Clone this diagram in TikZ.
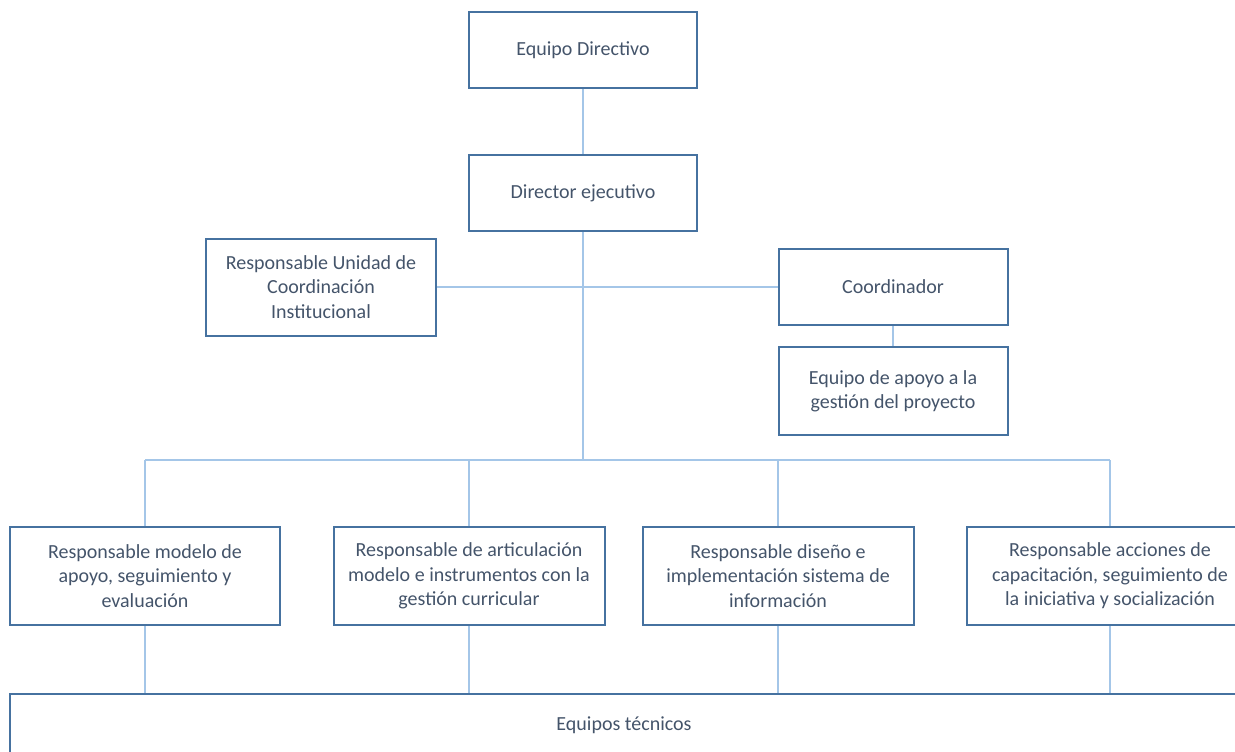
\documentclass[tikz,border=0pt]{standalone}
\usepackage{fontspec}
\setmainfont{Carlito}
\definecolor{boxline}{HTML}{4672A0}
\definecolor{linkline}{HTML}{A4C6E8}
\definecolor{boxtext}{HTML}{44546A}

\begin{document}
\begin{tikzpicture}[x=1pt,y=-1pt,
    box/.style={draw=boxline, line width=2pt, text=boxtext, align=center, inner sep=0pt, font=\fontsize{20}{24.4}\selectfont},
    link/.style={draw=linkline, line width=1.5pt}]
                \clip (0,0) rectangle (1235,752);

                \node[box, minimum width=228, minimum height=76] (equipo) at (583,50) {Equipo Directivo};
                \node[box, minimum width=228, minimum height=76] (dir) at (583,193) {Director ejecutivo};
                \node[box, minimum width=230, minimum height=97] (unidad) at (321,287) {Responsable Unidad de\\Coordinación\\Institucional};
                \node[box, minimum width=229, minimum height=76] (coord) at (893,287) {Coordinador};
                \node[box, minimum width=229, minimum height=88] (apoyo) at (893,391) {Equipo de apoyo a la\\gestión del proyecto};

                \node[box, minimum width=270, minimum height=98] (b1) at (145,576) {Responsable modelo de\\apoyo, seguimiento y\\evaluación};
                \node[box, minimum width=271, minimum height=98] (b2) at (469,576) {Responsable de articulación\\modelo e instrumentos con la\\gestión curricular};
                \node[box, minimum width=271, minimum height=98] (b3) at (778,576) {Responsable diseño e\\implementación sistema de\\información};
                \node[box, minimum width=286, minimum height=98] (b4) at (1110,576) {Responsable acciones de\\capacitación, seguimiento de\\la iniciativa y socialización};

                \node[box, minimum width=1228, minimum height=62] (tec) at (624,725) {Equipos técnicos};

                \coordinate (bus) at (583,460);

                \draw[link] (equipo) -- (dir);
                \draw[link] (dir) -- (bus);
                \draw[link] (unidad.east) -- (coord.west);
                \draw[link] (coord) -- (apoyo);

                \draw[link] (bus -| b1.north) -- (bus -| b4.north);
                \draw[link] (b1.north) -- (b1.north |- bus);
                \draw[link] (b2.north) -- (b2.north |- bus);
                \draw[link] (b3.north) -- (b3.north |- bus);
                \draw[link] (b4.north) -- (b4.north |- bus);

                \draw[link] (b1.south) -- (b1.south |- tec.north);
                \draw[link] (b2.south) -- (b2.south |- tec.north);
                \draw[link] (b3.south) -- (b3.south |- tec.north);
                \draw[link] (b4.south) -- (b4.south |- tec.north);
            \end{tikzpicture}
\end{document}
